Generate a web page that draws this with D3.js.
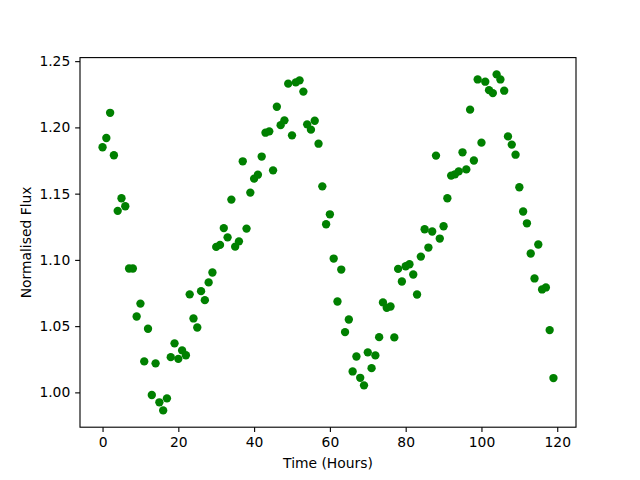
<!DOCTYPE html>
<html>
<head>
<meta charset="utf-8">
<script src="https://cdn.jsdelivr.net/npm/d3@7"></script>
<style>
html,body{margin:0;padding:0;background:#fff;}
svg{display:block;}
text{font-family:"DejaVu Sans",sans-serif;}
</style>
</head>
<body>
<svg id="chart" width="640" height="480"></svg>
<script>
const hours = d3.range(0, 120);
const flux = [
1.185,1.192,1.211,1.179,1.137,1.1465,1.1405,1.0935,1.0935,1.0573,
1.067,1.0234,1.048,0.998,1.0219,0.9925,0.9864,0.9955,1.0266,1.037,
1.0253,1.0317,1.028,1.074,1.0558,1.049,1.0764,1.0696,1.083,1.0905,
1.1098,1.1113,1.124,1.117,1.1455,1.110,1.114,1.1744,1.1236,1.1508,
1.1613,1.1643,1.178,1.196,1.197,1.1676,1.2156,1.2017,1.2053,1.233,
1.194,1.234,1.2355,1.227,1.2023,1.1983,1.205,1.1877,1.1555,1.1269,
1.1344,1.101,1.0686,1.0927,1.0455,1.055,1.0158,1.0271,1.011,1.0053,
1.0302,1.0183,1.0279,1.0417,1.0679,1.0638,1.0648,1.0415,1.0932,1.0837,
1.0952,1.0967,1.089,1.0739,1.1025,1.1231,1.1093,1.1214,1.1787,1.1161,
1.1254,1.1465,1.1636,1.1646,1.1668,1.1812,1.1683,1.2134,1.175,1.2362,
1.1885,1.2345,1.2281,1.2259,1.240,1.2362,1.2277,1.1932,1.187,1.1794,
1.1548,1.1365,1.1276,1.1048,1.086,1.1116,1.0777,1.0792,1.047,1.0108
];
const xTicks = [0, 20, 40, 60, 80, 100, 120];
const yTicks = [1.00, 1.05, 1.10, 1.15, 1.20, 1.25];
const xLabel = "Time (Hours)";
const yLabel = "Normalised Flux";

const W = 640, H = 480;
const L = 80, R = 576, T = 57.6, B = 427.2;
const svg = d3.select("#chart");

const xe = d3.extent(hours), ye = d3.extent(flux);
const xp = (xe[1]-xe[0])*0.05, yp = (ye[1]-ye[0])*0.05;
const x = d3.scaleLinear().domain([xe[0]-xp, xe[1]+xp]).range([L, R]);
const y = d3.scaleLinear().domain([ye[0]-yp, ye[1]+yp]).range([B, T]);

const tickLen = 4.86, pad = 4.86, fs = 13.89;

// points
svg.append("g").selectAll("circle").data(hours).join("circle")
  .attr("cx", d => x(d)).attr("cy", (d,i) => y(flux[i]))
  .attr("r", 4.17).attr("fill", "#008000");

// axes
const xAxis = d3.axisBottom(x).tickValues(xTicks).tickSize(tickLen).tickPadding(pad).tickFormat(d3.format("d"));
const yAxis = d3.axisLeft(y).tickValues(yTicks).tickSize(tickLen).tickPadding(pad).tickFormat(d3.format(".2f"));

const gx = svg.append("g").attr("transform", `translate(0,${B})`).call(xAxis);
const gy = svg.append("g").attr("transform", `translate(${L},0)`).call(yAxis);
[gx, gy].forEach(g => {
  g.select(".domain").remove();
  g.selectAll(".tick line").attr("stroke", "#000").attr("stroke-width", 1.11);
  g.selectAll(".tick text").attr("font-size", fs).attr("fill", "#000")
    .attr("font-family", "DejaVu Sans, sans-serif");
});

// spines
svg.append("rect").attr("x", L).attr("y", T).attr("width", R-L).attr("height", B-T)
  .attr("fill", "none").attr("stroke", "#000").attr("stroke-width", 1.11);

// labels
svg.append("text").attr("x", (L+R)/2).attr("y", 468).attr("text-anchor", "middle")
  .attr("font-size", fs).attr("fill", "#000").text(xLabel);
svg.append("text").attr("transform", `translate(31,${(T+B)/2}) rotate(-90)`)
  .attr("text-anchor", "middle").attr("font-size", fs).attr("fill", "#000").text(yLabel);
</script>
</body>
</html>
